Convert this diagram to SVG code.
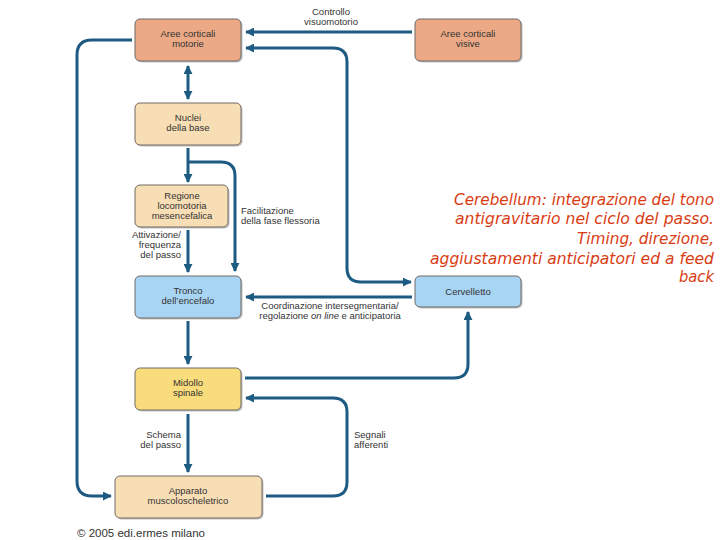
<svg xmlns="http://www.w3.org/2000/svg" width="720" height="540" viewBox="0 0 720 540">
<style>
.box{stroke:#6f6a64;stroke-width:1}
.sh{fill:#9a9a9a;opacity:0.6}
.salmon{fill:#eba986}
.peach{fill:#f8deb5}
.blue{fill:#a9d5f4}
.yellow{fill:#f9dc7b}
.t{font-family:"Liberation Sans",Arial,sans-serif;font-size:9.5px;fill:#333;text-anchor:middle}
.l{font-family:"Liberation Sans",Arial,sans-serif;font-size:9.5px;fill:#333}
.c{fill:none;stroke:#1d5b82;stroke-width:3}
.red{font-family:"DejaVu Sans",sans-serif;font-style:italic;font-size:15px;fill:#d93c12;text-anchor:end}
</style>
<defs>
<marker id="ah" viewBox="0 0 10 10" refX="9" refY="5" markerWidth="3" markerHeight="3" orient="auto-start-reverse" markerUnits="strokeWidth">
<path d="M0,0 L10,5 L0,10 z" fill="#1d5b82"/>
</marker>
</defs>
<rect width="720" height="540" fill="#fff"/>
<g id="connectors">
<path class="c" d="M412,32 H246" marker-end="url(#ah)"/>
<path class="c" d="M246,48 H333 Q347,48 347,62 V268 Q347,282 361,282 H411" marker-start="url(#ah)" marker-end="url(#ah)"/>
<path class="c" d="M188,66 V99" marker-start="url(#ah)" marker-end="url(#ah)"/>
<path class="c" d="M132,40 H92 Q77,40 77,55 V481 Q77,496 92,496 H111" marker-end="url(#ah)"/>
<path class="c" d="M188,148 V182" marker-end="url(#ah)"/>
<path class="c" d="M188,162 H221 Q235,162 235,176 V271" marker-end="url(#ah)"/>
<path class="c" d="M188,230 V272" marker-end="url(#ah)"/>
<path class="c" d="M412,297 H246" marker-end="url(#ah)"/>
<path class="c" d="M188,321 V364" marker-end="url(#ah)"/>
<path class="c" d="M245,378 H454 Q468,378 468,364 V312" marker-end="url(#ah)"/>
<path class="c" d="M188,414 V472" marker-end="url(#ah)"/>
<path class="c" d="M266,496 H333 Q347,496 347,482 V412 Q347,398 333,398 H246" marker-end="url(#ah)"/>
<text class="t" x="331" y="15">Controllo</text>
<text class="t" x="331" y="25">visuomotorio</text>
<text class="l" x="241" y="214">Facilitazione</text>
<text class="l" x="241" y="224">della fase flessoria</text>
<text class="l" x="181" y="238" text-anchor="end">Attivazione/</text>
<text class="l" x="181" y="248" text-anchor="end">frequenza</text>
<text class="l" x="181" y="258" text-anchor="end">del passo</text>
<text class="t" x="330" y="309">Coordinazione intersegmentaria/</text>
<text class="t" x="330" y="319">regolazione <tspan font-style="italic">on line</tspan> e anticipatoria</text>
<text class="l" x="181" y="438" text-anchor="end">Schema</text>
<text class="l" x="181" y="448" text-anchor="end">del passo</text>
<text class="l" x="354" y="438">Segnali</text>
<text class="l" x="354" y="448">afferenti</text>
</g>
<g id="n_motorie">
<rect class="sh" x="136.5" y="20.5" width="106" height="42" rx="5"/>
<rect class="box salmon" x="135" y="19" width="106" height="42" rx="5"/>
<text class="t" x="188" y="37">Aree corticali</text>
<text class="t" x="188" y="47">motorie</text>
</g>
<g id="n_visive">
<rect class="sh" x="416.5" y="20.5" width="106" height="42" rx="5"/>
<rect class="box salmon" x="415" y="19" width="106" height="42" rx="5"/>
<text class="t" x="468" y="37">Aree corticali</text>
<text class="t" x="468" y="47">visive</text>
</g>
<g id="n_nuclei">
<rect class="sh" x="136.5" y="104.5" width="106" height="42" rx="5"/>
<rect class="box peach" x="135" y="103" width="106" height="42" rx="5"/>
<text class="t" x="188" y="121">Nuclei</text>
<text class="t" x="188" y="131">della base</text>
</g>
<g id="n_regione">
<rect class="sh" x="136.5" y="186.5" width="93" height="42" rx="5"/>
<rect class="box peach" x="135" y="185" width="93" height="42" rx="5"/>
<text class="t" x="182" y="199">Regione</text>
<text class="t" x="182" y="209">locomotoria</text>
<text class="t" x="182" y="219">mesencefalica</text>
</g>
<g id="n_tronco">
<rect class="sh" x="136.5" y="277.5" width="106" height="42" rx="5"/>
<rect class="box blue" x="135" y="276" width="106" height="42" rx="5"/>
<text class="t" x="188" y="294">Tronco</text>
<text class="t" x="188" y="304">dell’encefalo</text>
</g>
<g id="n_cervelletto">
<rect class="sh" x="416.5" y="277.5" width="106" height="31" rx="5"/>
<rect class="box blue" x="415" y="276" width="106" height="31" rx="5"/>
<text class="t" x="468" y="295">Cervelletto</text>
</g>
<g id="n_midollo">
<rect class="sh" x="136.5" y="369.5" width="106" height="42" rx="5"/>
<rect class="box yellow" x="135" y="368" width="106" height="42" rx="5"/>
<text class="t" x="188" y="386">Midollo</text>
<text class="t" x="188" y="396">spinale</text>
</g>
<g id="n_apparato">
<rect class="sh" x="116.5" y="477.5" width="147" height="42" rx="5"/>
<rect class="box peach" x="115" y="476" width="147" height="42" rx="5"/>
<text class="t" x="188" y="494">Apparato</text>
<text class="t" x="188" y="504">muscoloscheletrico</text>
</g>
<text class="l" x="77" y="537" style="font-size:11.5px">© 2005 edi.ermes milano</text>
<g id="note">
<text class="red" x="714" y="205" textLength="260" lengthAdjust="spacingAndGlyphs">Cerebellum: integrazione del tono</text>
<text class="red" x="714" y="224" textLength="259" lengthAdjust="spacingAndGlyphs">antigravitario nel ciclo del passo.</text>
<text class="red" x="714" y="244" textLength="137" lengthAdjust="spacingAndGlyphs">Timing, direzione,</text>
<text class="red" x="714" y="264" textLength="284" lengthAdjust="spacingAndGlyphs">aggiustamenti anticipatori ed a feed</text>
<text class="red" x="714" y="282" textLength="35" lengthAdjust="spacingAndGlyphs">back</text>
</g>
</svg>
